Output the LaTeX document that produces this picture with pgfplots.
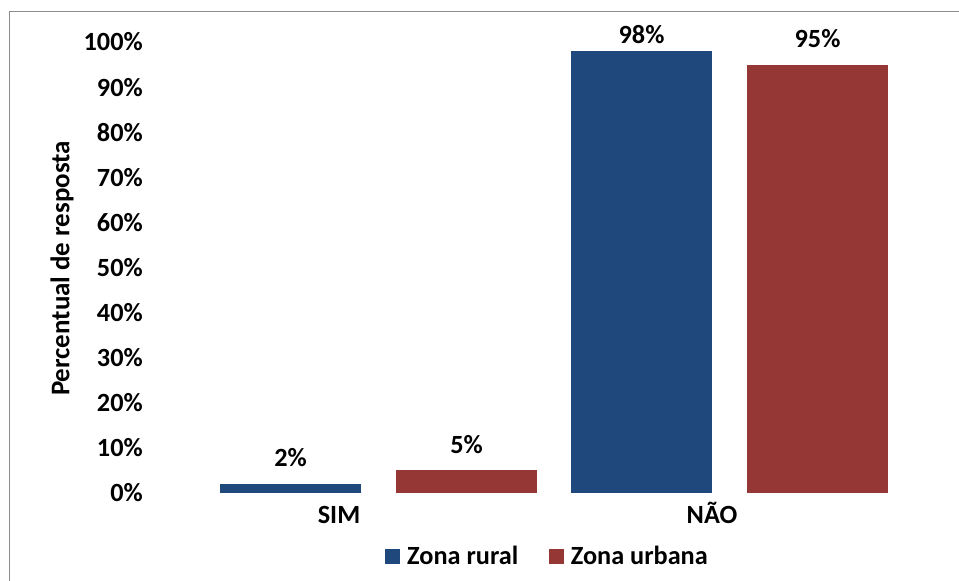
\documentclass[border=0pt]{standalone}
\usepackage{pgfplots}
\pgfplotsset{compat=1.18}
\usepackage{fontspec}
\setmainfont{Carlito}
\definecolor{rural}{HTML}{1F497D}
\definecolor{urbana}{HTML}{953735}
\definecolor{frame}{HTML}{8C8C8C}
\newcommand{\lblfont}{\bfseries\fontsize{19.7}{23}\selectfont}
\begin{document}
\begin{tikzpicture}[x=0.75pt,y=0.75pt]
\useasboundingbox (0,0) rectangle (959,581);
\draw[frame, line width=1.1pt] (9.5,0) -- (9.5,569.5) -- (959,569.5);
\begin{axis}[
  at={(107.25pt,66pt)}, anchor=south west,
  scale only axis, width=575.25pt, height=338.25pt,
  xmin=143, xmax=910, ymin=0, ymax=100,
  clip=false,
  axis line style={draw=none}, major tick length=0pt,
  ytick={0,10,...,100},
  yticklabels={0\%,10\%,20\%,30\%,40\%,50\%,60\%,70\%,80\%,90\%,100\%},
  yticklabel style={font=\lblfont, anchor=east, inner sep=0pt},
  xtick={339,712}, xticklabels={SIM,NÃO},
  xticklabel style={font=\lblfont, anchor=base, inner sep=0pt, yshift=-23.25pt},
  ybar, bar width=141, 
  every axis plot/.append style={draw=none, bar shift=0pt},
  nodes near coords, point meta=explicit symbolic,
  every node near coord/.append style={font=\lblfont, anchor=base, inner sep=0pt, yshift=13pt, text=black},
  legend columns=2,
  legend style={at={(axis cs:546.5,-13.97)}, anchor=center, draw=none, fill=none,
    font=\lblfont, nodes={inner sep=0pt},
    /tikz/every odd column/.append style={column sep=5.25pt},
    /tikz/every even column/.append style={column sep=23pt}},
  legend image code/.code={\fill[#1] (0pt,-5.625pt) rectangle (11.25pt,5.625pt);},
]
\addplot[fill=rural] coordinates {(290.5,2) [2\%]};
\addlegendentry{Zona rural}
\addplot[fill=urbana] coordinates {(466.5,5) [5\%]};
\addlegendentry{Zona urbana}
\addplot[fill=rural, forget plot, every node near coord/.append style={yshift=-7.5pt}] coordinates {(641.5,98) [98\%]};
\addplot[fill=urbana, forget plot] coordinates {(817.5,95) [95\%]};
\end{axis}
\node[rotate=90, font=\bfseries\fontsize{20.2}{24}\selectfont, inner sep=0pt] at (62,312.5) {Percentual de resposta};
\end{tikzpicture}
\end{document}
